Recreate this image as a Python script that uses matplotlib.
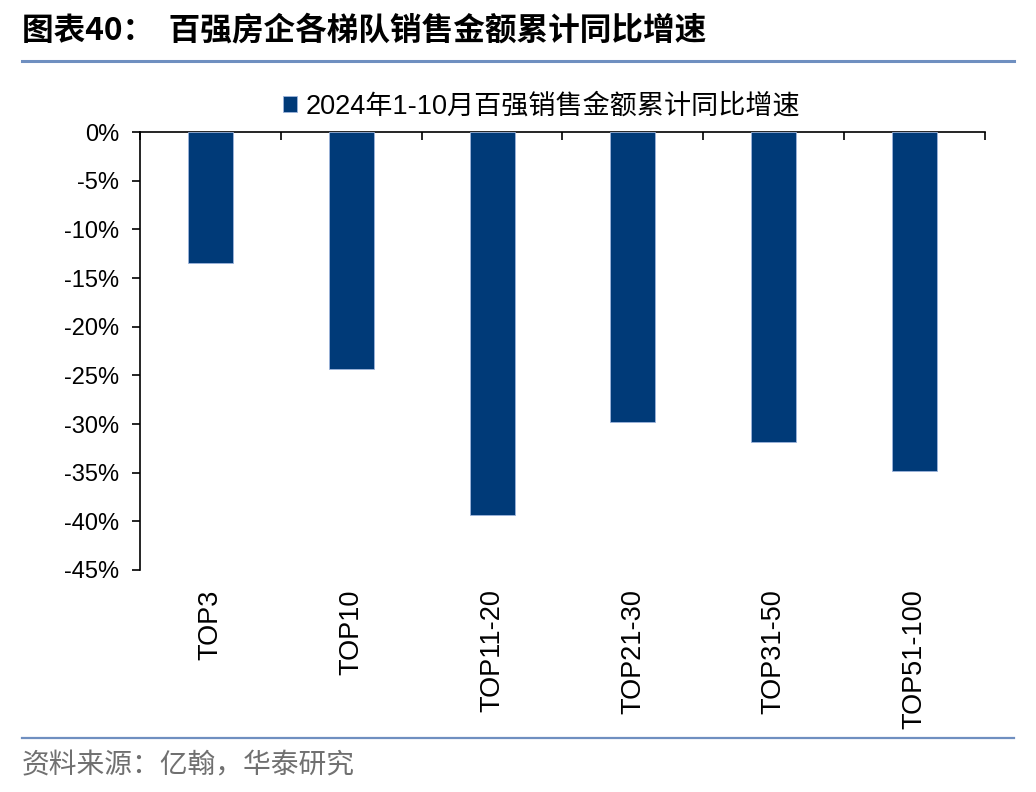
import matplotlib
matplotlib.use("Agg")
import numpy as np
import matplotlib.pyplot as plt
from matplotlib.lines import Line2D

plt.rcParams['font.family'] = ['Liberation Sans', 'Noto Sans CJK SC', 'DejaVu Sans']

# Chart data
categories = ["TOP3", "TOP10", "TOP11-20", "TOP21-30", "TOP31-50", "TOP51-100"]
growth = [-13.5, -24.4, -39.4, -29.8, -31.9, -34.8]
series_name = "2024年1-10月百强销售金额累计同比增速"
y_ticks = [0, -5, -10, -15, -20, -25, -30, -35, -40, -45]

bar_color = "#003a78"
line_color = "#6f8fc0"

fig = plt.figure(figsize=(10.36, 7.92), dpi=100)
ax = fig.add_axes([140 / 1036, 1 - 570 / 792, 845 / 1036, 438 / 792])

index = np.arange(len(categories))
ax.bar(index, growth, 0.32, color=bar_color, edgecolor="#9db5dc",
       linewidth=0.6, label=series_name, zorder=2)

ax.set_xlim(-0.5, len(categories) - 0.5)
ax.set_ylim(-45, 0)
ax.set_yticks(y_ticks)
ax.set_yticklabels(["%d%%" % v for v in y_ticks], fontsize=17)
ax.tick_params(axis="y", direction="out", length=6, width=1.2, pad=9)

# category labels at the bottom, rotated, no tick marks
ax.set_xticks(index)
ax.set_xticklabels(categories, rotation=90, fontsize=19.5, va="top")
ax.tick_params(axis="x", bottom=False, length=0, pad=14)

# tick marks on the zero line at category boundaries
sec = ax.secondary_xaxis("top")
sec.set_xticks(np.arange(-0.5, len(categories), 1.0))
sec.set_xticklabels([])
sec.tick_params(direction="in", length=6, width=1.2)
sec.spines["top"].set_linewidth(1.2)

for s in ["right", "bottom", "top"]:
    ax.spines[s].set_visible(False)
ax.spines["left"].set_linewidth(1.2)

leg = ax.legend(loc="lower center", bbox_to_anchor=(0.475, 1.0), frameon=False,
                fontsize=19.5, handlelength=0.55, handleheight=0.55,
                handletextpad=0.3, borderaxespad=0.05)

# title and source
fig.text(22 / 1036, 1 - 30 / 792, "图表40：  百强房企各梯队销售金额累计同比增速",
         fontsize=22.8, fontweight="bold", va="center", ha="left",
         family=['Noto Sans CJK SC', 'DejaVu Sans'])
fig.add_artist(Line2D([22 / 1036, 1014 / 1036], [1 - 61 / 792, 1 - 61 / 792],
                      color=line_color, linewidth=2.2))
fig.add_artist(Line2D([22 / 1036, 1014 / 1036], [1 - 738 / 792, 1 - 738 / 792],
                      color=line_color, linewidth=1.6))
fig.text(22 / 1036, 1 - 765 / 792, "资料来源：亿翰，华泰研究", fontsize=20,
         color="#707070", va="center", ha="left",
         family=['Noto Sans CJK SC', 'DejaVu Sans'])

plt.savefig("out.png", dpi=100)
